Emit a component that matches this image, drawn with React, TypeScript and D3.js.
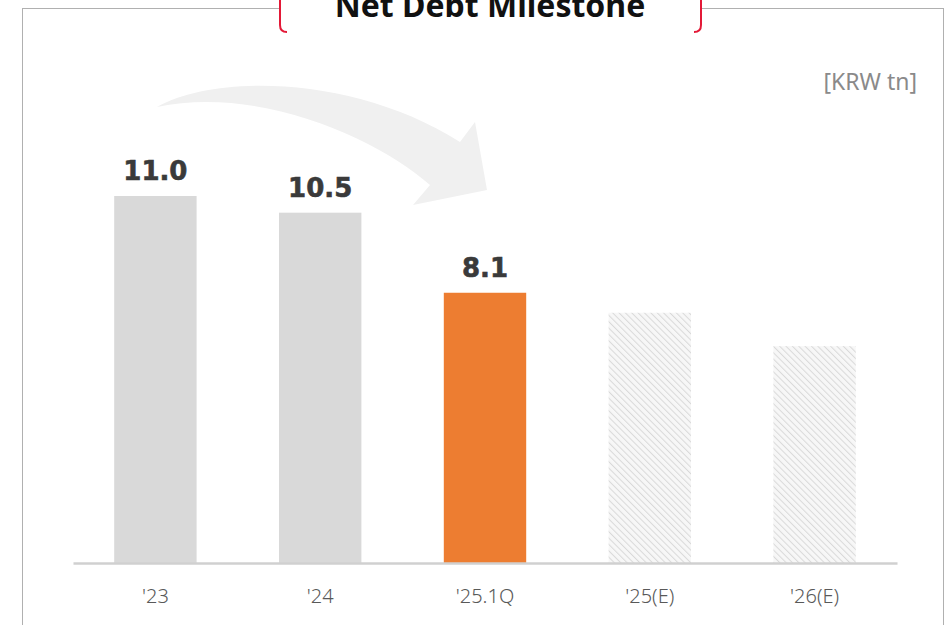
import React, { useEffect, useRef } from "react";
import * as d3 from "d3";

const categories = ["'23", "'24", "'25.1Q", "'25(E)", "'26(E)"];
const values = [11.0, 10.5, 8.1, 7.5, 6.5];
const valueLabels = ["11.0", "10.5", "8.1", "", ""];
const kinds = ["past", "past", "current", "estimate", "estimate"];
const title = "Net Debt Milestone";
const unit = "[KRW tn]";

const W = 951;
const H = 625;

export default function App() {
  const ref = useRef<SVGSVGElement>(null);

  useEffect(() => {
    const svg = d3.select(ref.current);
    svg.selectAll("*").remove();

    const defs = svg.append("defs");
    const pat = defs
      .append("pattern")
      .attr("id", "hatch")
      .attr("patternUnits", "userSpaceOnUse")
      .attr("width", 4.5)
      .attr("height", 4.5)
      .attr("patternTransform", "rotate(-45)");
    pat.append("rect").attr("width", 4.5).attr("height", 4.5).attr("fill", "#f7f7f7");
    pat
      .append("line")
      .attr("x1", 0)
      .attr("y1", 0)
      .attr("x2", 0)
      .attr("y2", 4.5)
      .attr("stroke", "#d9d9d9")
      .attr("stroke-width", 2);

    // outer frame
    svg
      .append("rect")
      .attr("x", 22.5)
      .attr("y", 8.5)
      .attr("width", 921)
      .attr("height", 700)
      .attr("fill", "none")
      .attr("stroke", "#b0b0b0")
      .attr("stroke-width", 1);

    // title tab
    svg.append("rect").attr("x", 279).attr("y", 0).attr("width", 423).attr("height", 33).attr("fill", "#fff");
    svg
      .append("path")
      .attr("d", "M280,0 L280,25 Q280,32 287,32")
      .attr("fill", "none")
      .attr("stroke", "#e31937")
      .attr("stroke-width", 2);
    svg
      .append("path")
      .attr("d", "M701,0 L701,25 Q701,32 694,32")
      .attr("fill", "none")
      .attr("stroke", "#e31937")
      .attr("stroke-width", 2);
    svg
      .append("text")
      .attr("x", 490)
      .attr("y", 17)
      .attr("text-anchor", "middle")
      .attr("font-family", "'Noto Sans', sans-serif")
      .attr("font-weight", 700)
      .attr("font-size", 32)
      .attr("fill", "#111")
      .text(title);

    // unit
    svg
      .append("text")
      .attr("x", 917)
      .attr("y", 90)
      .attr("text-anchor", "end")
      .attr("font-family", "'Noto Sans', sans-serif")
      .attr("font-size", 23)
      .attr("fill", "#8a8a8a")
      .text(unit);

    // decorative arrow
    svg
      .append("path")
      .attr(
        "d",
        "M157,107 C220,72 360,78 460,142 L475,122 L487,190 L413,205 L430,185 C380,140 260,85 157,107 Z"
      )
      .attr("fill", "#f0f0f0");

    const x = d3.scaleBand().domain(categories).range([73, 897]).paddingInner(0.5).paddingOuter(0.25);
    const y = d3.scaleLinear().domain([0, 11]).range([563, 196]);

    const fill = (k: string) =>
      k === "current" ? "#ed7d31" : k === "estimate" ? "url(#hatch)" : "#d9d9d9";

    svg
      .append("g")
      .selectAll("rect")
      .data(values)
      .join("rect")
      .attr("x", (d, i) => x(categories[i]))
      .attr("y", (d) => y(d))
      .attr("width", x.bandwidth())
      .attr("height", (d) => y(0) - y(d))
      .attr("fill", (d, i) => fill(kinds[i]));

    svg
      .append("g")
      .selectAll("text")
      .data(values)
      .join("text")
      .attr("x", (d, i) => x(categories[i]) + x.bandwidth() / 2)
      .attr("y", (d) => y(d) - 16)
      .attr("text-anchor", "middle")
      .attr("font-family", "'DejaVu Sans', sans-serif")
      .attr("font-weight", 700)
      .attr("font-size", 26)
      .attr("fill", "#3a3a3a")
      .attr("stroke", "#3a3a3a")
      .attr("stroke-width", 0.6)
      .text((d, i) => valueLabels[i]);

    const axis = svg
      .append("g")
      .attr("transform", "translate(0,563)")
      .call(d3.axisBottom(x).tickSize(0).tickPadding(26));
    axis.select(".domain").attr("stroke", "#d0d0d0").attr("stroke-width", 2.5);
    axis
      .selectAll("text")
      .attr("font-family", "'Noto Sans', sans-serif")
      .attr("font-weight", 300)
      .attr("font-size", 20)
      .attr("fill", "#595959");
  }, []);

  return (
    <svg
      ref={ref}
      width={W}
      height={H}
      style={{ position: "absolute", left: 0, top: 0, background: "#fff" }}
    />
  );
}
